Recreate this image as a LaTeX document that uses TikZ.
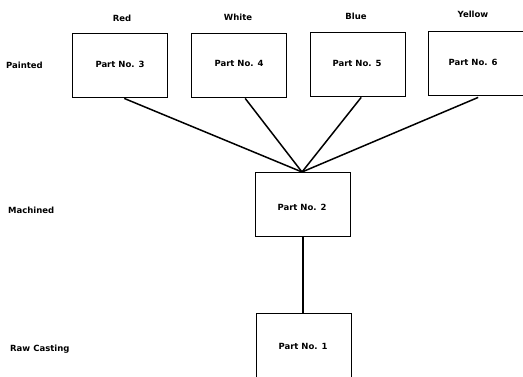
\documentclass[tikz,border=0pt]{standalone}
\usepackage{fontspec}
\setmainfont{DejaVu Sans}
\begin{document}
\begin{tikzpicture}[x=1pt,y=-1pt,
  partbox/.style={draw,line width=1.4pt,minimum width=95pt,minimum height=64pt,inner sep=0pt,anchor=north west},
  lbl/.style={font=\bfseries\fontsize{8.5}{10}\selectfont,inner sep=0pt},
  link/.style={line width=1.5pt}]
\useasboundingbox (0,0) rectangle (523,377);
\node[partbox] (p3) at (72,33) {};
\node[partbox] (p4) at (191,33) {};
\node[partbox] (p5) at (310,32) {};
\node[partbox] (p6) at (428,31) {};
\node[partbox] (p2) at (255,172) {};
\node[partbox] (p1) at (256,313) {};
\node[lbl] (t3) at (120,64) {Part No. 3};
\node[lbl] (t4) at (239,63) {Part No. 4};
\node[lbl] (t5) at (357,63) {Part No. 5};
\node[lbl] (t6) at (473,62) {Part No. 6};
\node[lbl] (t2) at (302,207) {Part No. 2};
\node[lbl] (t1) at (303,346) {Part No. 1};
\node[lbl] (red) at (122,18) {Red};
\node[lbl] (white) at (238,17) {White};
\node[lbl] (blue) at (356,16) {Blue};
\node[lbl] (yellow) at (473,14) {Yellow};
\node[lbl,anchor=west] (painted) at (6,65) {Painted};
\node[lbl,anchor=west] (machined) at (8,210) {Machined};
\node[lbl,anchor=west] (raw) at (10,349) {Raw Casting};
\coordinate (hub) at (302,172);
\draw[link] (p3.south) ++(4,0) -- (hub);
\draw[link] (p4.south) ++(6,0) -- (hub);
\draw[link] (p5.south) ++(3,0) -- (hub);
\draw[link] (p6.south) ++(2,1) -- (hub);
\draw[link] (p2.south) -- (p2.south |- p1.north);
\end{tikzpicture}
\end{document}
